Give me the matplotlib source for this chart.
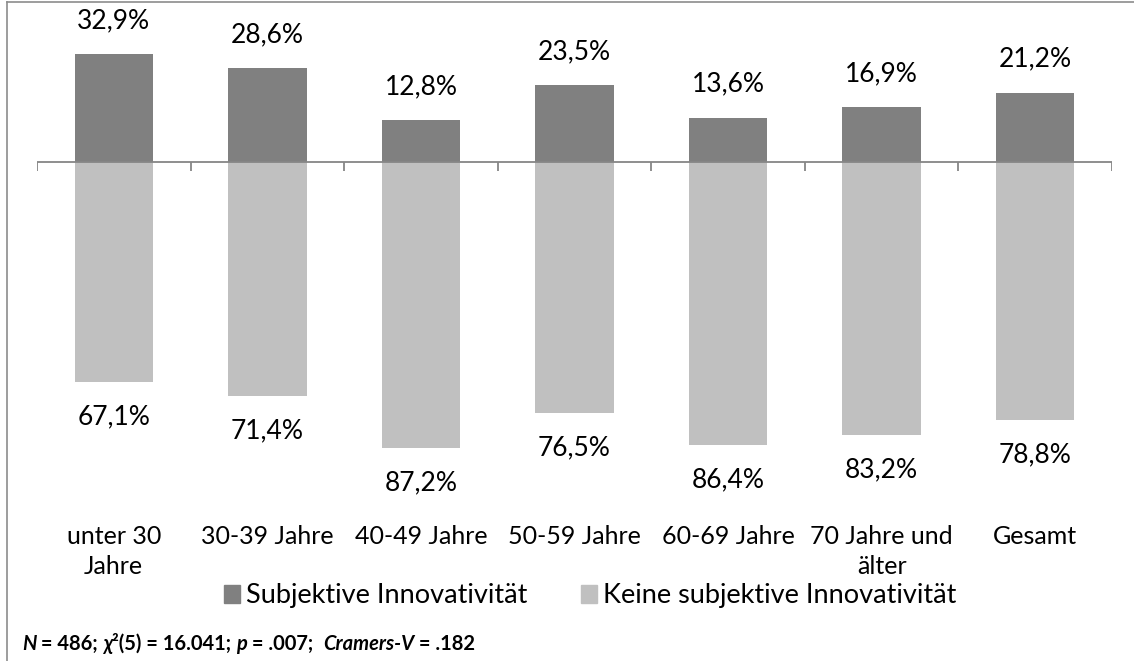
import matplotlib.pyplot as plt
from matplotlib.lines import Line2D
from matplotlib.patches import Patch
import numpy as np

plt.rcParams['font.family'] = ['Lato', 'DejaVu Sans']

# data
categories = ['unter 30\nJahre', '30-39 Jahre', '40-49 Jahre', '50-59 Jahre',
              '60-69 Jahre', '70 Jahre und\nälter', 'Gesamt']
innovativ = [32.9, 28.6, 12.8, 23.5, 13.6, 16.9, 21.2]
nicht_innovativ = [67.1, 71.4, 87.2, 76.5, 86.4, 83.2, 78.8]
legend_labels = ['Subjektive Innovativität', 'Keine subjektive Innovativität']

dark = '#808080'
light = '#c0c0c0'
axis_col = '#868686'

fig = plt.figure(figsize=(11.34, 6.61), dpi=100)
ax = fig.add_axes([37 / 1134, 1 - 490 / 661, 1075 / 1134, 459 / 661])

x = np.arange(len(categories))
ax.bar(x, innovativ, width=0.51, color=dark)
ax.bar(x, [-v for v in nicht_innovativ], width=0.51, color=light)

for xi, v in zip(x, innovativ):
    ax.annotate(f'{v:.1f}%'.replace('.', ','), (xi, v), xytext=(0, 15),
                textcoords='offset points', ha='center', va='bottom', fontsize=19)
for xi, v in zip(x, nicht_innovativ):
    ax.annotate(f'{v:.1f}%'.replace('.', ','), (xi, -v), xytext=(0, -16),
                textcoords='offset points', ha='center', va='top', fontsize=19)

# zero line with category boundary ticks
ax.plot([-0.5, len(categories) - 0.5], [0, 0], color=axis_col, lw=1.3)
ax.vlines(np.arange(-0.5, len(categories)), -2.7, 0, color=axis_col, lw=1.3)

ax.set_xlim(-0.5, len(categories) - 0.5)
ax.set_ylim(-100, 40)
ax.set_xticks(x)
ax.set_xticklabels(categories, fontsize=18, linespacing=1.4)
ax.tick_params(axis='x', length=0, pad=25)
ax.set_yticks([])
for s in ax.spines.values():
    s.set_visible(False)

handles = [Patch(color=dark), Patch(color=light)]
fig.legend(handles, legend_labels, loc='center', ncol=2,
           bbox_to_anchor=(590 / 1134, 1 - 596 / 661), frameon=False,
           fontsize=19.5, handlelength=0.6, handleheight=0.6,
           handletextpad=0.2, columnspacing=2.0)

# footnote with mixed bold / bold italic pieces
pieces = [('N', 'italic'), (' = 486; ', 'normal'), ('χ', 'italic'),
          ('²(5) = 16.041; ', 'normal'), ('p', 'italic'), (' = .007;  ', 'normal'),
          ('Cramers-V', 'italic'), (' = .182', 'normal')]
prev = fig.text(22 / 1134, 1 - 654 / 661, '', fontsize=14.5, fontweight='bold')
for txt, style in pieces:
    prev = plt.annotate(txt, xy=(1, 0), xycoords=prev, va='bottom', ha='left',
                        fontsize=14.5, fontweight='bold', fontstyle=style,
                        annotation_clip=False)

# outer frame (top and left)
fig.add_artist(Line2D([7 / 1134, 1], [1 - 2 / 661, 1 - 2 / 661],
                      transform=fig.transFigure, color='#8c8c8c', lw=1.2))
fig.add_artist(Line2D([7 / 1134, 7 / 1134], [0, 1 - 2 / 661],
                      transform=fig.transFigure, color='#8c8c8c', lw=1.2))

fig.savefig('out.png', dpi=100)
